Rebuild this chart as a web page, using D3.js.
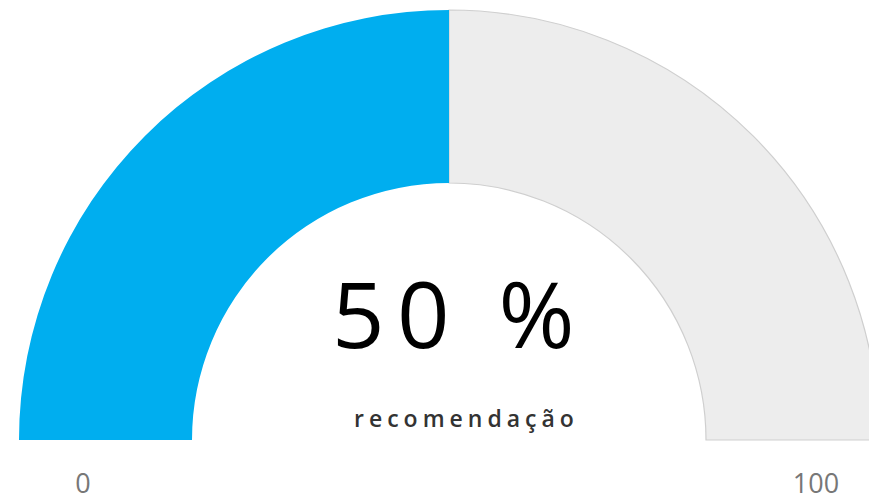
<!DOCTYPE html>
<html>
<head>
<meta charset="utf-8">
<script src="https://cdn.jsdelivr.net/npm/d3@7"></script>
<style>
  body { margin: 0; background: #fff; }
  svg { display: block; }
</style>
</head>
<body>
<svg width="869" height="500"></svg>
<script>
// gauge data
const gaugeMin = 0;
const gaugeMax = 100;
const gaugeValue = 50;
const gaugeLabel = 'recomendação';
const tickLabels = ['0', '100'];

function drawGauge() {
    const cx = 449;
    const cy = 440;
    const outerR = 430;
    const innerR = 257;

    const svg = d3.select('svg');
    svg.selectAll('*').remove();

    // value -> angle (0 at 12 o'clock, like d3.arc)
    const angle = d3.scaleLinear()
        .domain([gaugeMin, gaugeMax])
        .range([-Math.PI / 2, Math.PI / 2]);

    const arc = d3.arc()
        .innerRadius(innerR)
        .outerRadius(outerR);

    const g = svg.append('g')
        .attr('transform', `translate(${cx}, ${cy})`);

    // remaining part
    g.append('path')
        .attr('d', arc({ startAngle: angle(gaugeValue), endAngle: angle(gaugeMax) }))
        .attr('fill', '#ededed')
        .attr('stroke', '#cfcfcf')
        .attr('stroke-width', 1.2);

    // value part
    g.append('path')
        .attr('d', arc({ startAngle: angle(gaugeMin), endAngle: angle(gaugeValue) }))
        .attr('fill', '#00aeef');

    // big value
    svg.append('text')
        .text(`${gaugeValue} %`)
        .attr('x', 332)
        .attr('y', 348)
        .style('font-family', '"Open Sans", sans-serif')
        .style('font-size', '92px')
        .style('letter-spacing', '12.5px')
        .style('fill', '#000');

    // label
    svg.append('text')
        .text(gaugeLabel)
        .attr('x', 354)
        .attr('y', 427)
        .style('font-family', '"Open Sans", sans-serif')
        .style('font-size', '23px')
        .style('font-weight', 600)
        .style('letter-spacing', '5px')
        .style('fill', '#333');

    // min / max
    const tickX = d3.scaleOrdinal()
        .domain(tickLabels)
        .range([83, 816]);
    svg.selectAll('.tick-label')
        .data(tickLabels)
        .join('text')
        .attr('class', 'tick-label')
        .text(d => d)
        .attr('x', d => tickX(d))
        .attr('y', 493)
        .attr('text-anchor', 'middle')
        .style('font-family', '"Open Sans", sans-serif')
        .style('font-size', '27px')
        .style('fill', '#777');
}

window.addEventListener('load', drawGauge);
</script>
</body>
</html>
